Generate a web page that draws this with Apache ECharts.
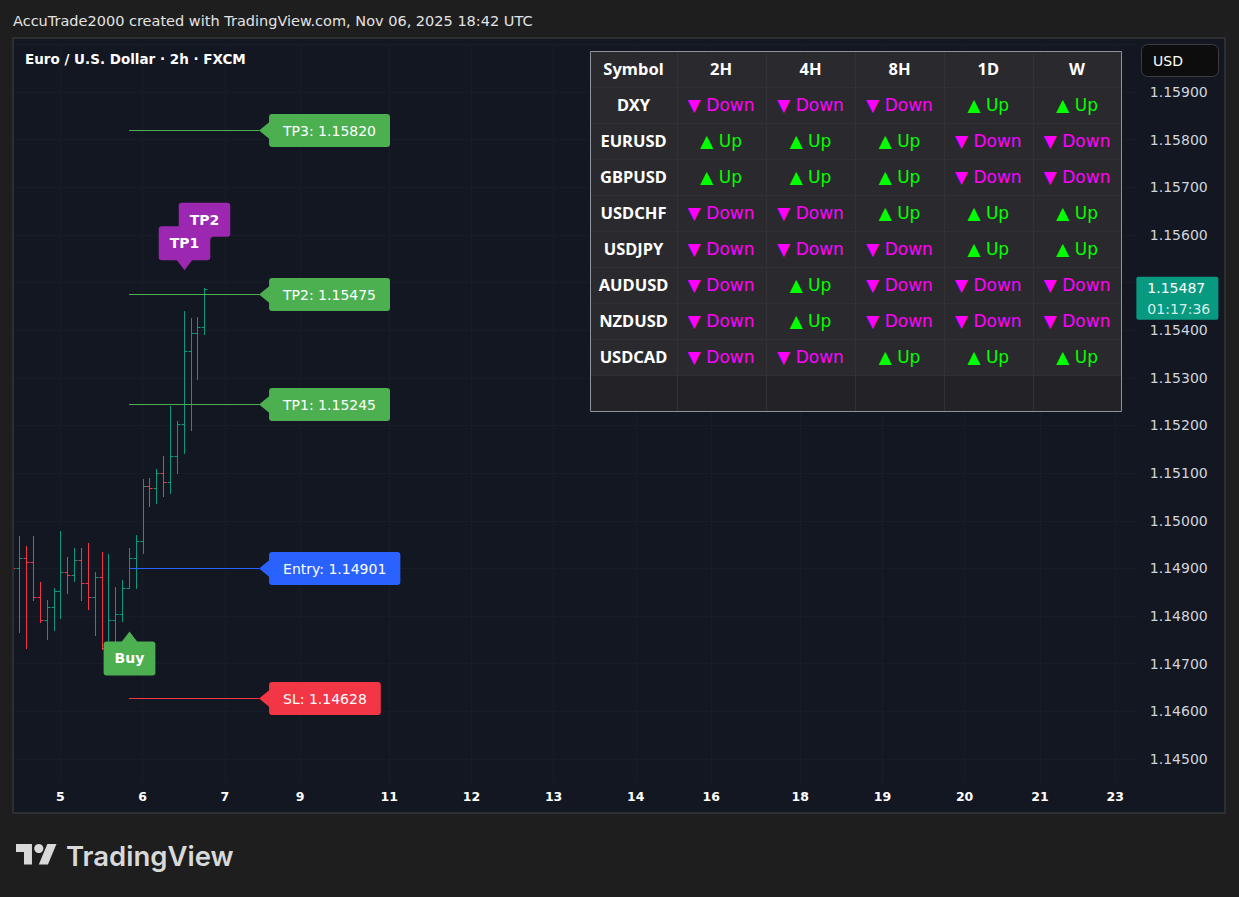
<!DOCTYPE html>
<html>
<head>
<meta charset="utf-8">
<script src="https://cdn.jsdelivr.net/npm/echarts@6/dist/echarts.min.js"></script>
<style>
html,body{margin:0;padding:0;background:#1e1e1e;}
#c{width:1239px;height:897px;}
</style>
</head>
<body>
<div id="c"></div>
<script>
// ---------- DATA ----------
// 2h OHLC bars (bar index 0 = Nov 4 10:00 UTC)
const opens  = [1.14915,1.14900,1.14921,1.14914,1.14839,1.14791,1.14820,1.14852,1.14892,1.14886,1.14917,1.14869,1.14841,1.14881,1.14732,1.14792,1.14804,1.14858,1.14922,1.14957,1.15074,1.15068,1.15100,1.15081,1.15135,1.15203,1.15356,1.15394,1.15406];
const highs  = [1.14935,1.14968,1.14947,1.14968,1.14872,1.14834,1.14859,1.14979,1.14924,1.14943,1.14943,1.14953,1.14892,1.14934,1.14930,1.14860,1.14875,1.14943,1.14970,1.15087,1.15089,1.15108,1.15136,1.15241,1.15209,1.15440,1.15426,1.15428,1.15489];
const lows   = [1.14880,1.14767,1.14732,1.14834,1.14788,1.14752,1.14771,1.14796,1.14849,1.14874,1.14834,1.14815,1.14761,1.14730,1.14687,1.14701,1.14789,1.14858,1.14858,1.14932,1.15032,1.15038,1.15053,1.15059,1.15101,1.15143,1.15191,1.15298,1.15393];
const closes = [1.14900,1.14921,1.14914,1.14839,1.14791,1.14820,1.14852,1.14892,1.14886,1.14917,1.14869,1.14841,1.14881,1.14732,1.14792,1.14804,1.14858,1.14922,1.14957,1.15074,1.15068,1.15100,1.15081,1.15135,1.15203,1.15356,1.15394,1.15406,1.15487];

// time axis (bar slots incl. future space) and day labels
const xSlotCount = 165;
const xTickIndex  = [7, 19, 31, 42, 55, 67, 79, 91, 102, 115, 127, 139, 150, 161];
const xTickLabels = ['5','6','7','9','11','12','13','14','16','18','19','20','21','23'];

// trade levels
const levelNames  = ['TP3','TP2','TP1','Entry','SL'];
const levelPrices = [1.15820, 1.15475, 1.15245, 1.14901, 1.14628];
const levelStartIndex = 17;
const levelEndIndex = 36;

// signal labels
const signalNames = ['Buy','TP2','TP1'];
const signalIndex = [17, 28, 25];
const signalSide  = ['below','above','above'];

// countdown on last price
const lastPriceCountdown = '01:17:36';

// trend table
const tableTimeframes = ['2H','4H','8H','1D','W'];
const tableSymbols = ['DXY','EURUSD','GBPUSD','USDCHF','USDJPY','AUDUSD','NZDUSD','USDCAD'];
const tableTrends = [
  ['Down','Down','Down','Up','Up'],
  ['Up','Up','Up','Down','Down'],
  ['Up','Up','Up','Down','Down'],
  ['Down','Down','Up','Up','Up'],
  ['Down','Down','Down','Up','Up'],
  ['Down','Up','Down','Down','Down'],
  ['Down','Up','Down','Down','Down'],
  ['Down','Down','Up','Up','Up']
];

// ---------- STYLE ----------
const FONT = '"DejaVu Sans", sans-serif';
const FONT2 = '"Noto Sans", "DejaVu Sans", sans-serif';
const UP = '#089981', DN = '#f23645';
const levelColor = n => n === 'Entry' ? '#2962ff' : (n === 'SL' ? '#f23645' : '#4caf50');
const signalColor = n => n === 'Buy' ? '#4caf50' : '#9c27b0';

const xCategories = Array.from({length: xSlotCount}, (_, i) => String(i));
const ohlcData = opens.map((o, i) => [i, o, closes[i], lows[i], highs[i]]);
const levelData = levelPrices.map((p, k) => [levelStartIndex, p, levelEndIndex, k]);
const signalData = signalNames.map((n, k) => {
  const i = signalIndex[k];
  return [i, signalSide[k] === 'above' ? highs[i] : lows[i], k];
});
const lastIdx = closes.length - 1;

const isWhole = v => Math.abs(v * 1000 - Math.round(v * 1000)) < 1e-6;

// ---------- GRAPHICS ----------
const graphics = [];
graphics.push({type:'rect', z:-10, silent:true, shape:{x:13, y:38, width:1212, height:775}, style:{fill:'#131722'}});
graphics.push({type:'rect', z:100, silent:true, shape:{x:13, y:38, width:1212, height:775}, style:{fill:'none', stroke:'#2e2f33', lineWidth:2}});
graphics.push({type:'text', z:10, style:{text:'AccuTrade2000 created with TradingView.com, Nov 06, 2025 18:42 UTC', x:13, y:20.5, verticalAlign:'middle', fill:'#e3e3e3', font:'14.5px ' + FONT}});
graphics.push({type:'text', z:10, style:{text:'Euro / U.S. Dollar · 2h · FXCM', x:25, y:59, verticalAlign:'middle', fill:'#ffffff', font:'bold 13.5px ' + FONT}});
// USD box
graphics.push({type:'rect', z:10, shape:{x:1141.5, y:44.5, width:77, height:32, r:6}, style:{fill:'#0d0d0d', stroke:'#3c3c3c', lineWidth:1}});
graphics.push({type:'text', z:11, style:{text:'USD', x:1153, y:61, verticalAlign:'middle', fill:'#ffffff', font:'14px ' + FONT}});

// table
const colX = [590.5, 676.5, 765.8, 855.2, 943.9, 1032.7, 1121.5];
const tblTop = 51.5, rowH = 36, rowCount = tableSymbols.length + 2;
const tblBottom = tblTop + rowH * rowCount;
graphics.push({type:'rect', z:20, shape:{x:colX[0], y:tblTop, width:colX[6]-colX[0], height:rowH*rowCount}, style:{fill:'#2a2a2e'}});
graphics.push({type:'rect', z:20, shape:{x:colX[0], y:tblTop + rowH*(rowCount-1), width:colX[6]-colX[0], height:rowH}, style:{fill:'#232327'}});
for (let c = 1; c < 6; c++) {
  graphics.push({type:'line', z:21, shape:{x1:Math.round(colX[c])+0.5, y1:tblTop, x2:Math.round(colX[c])+0.5, y2:tblBottom}, style:{stroke:'#313136', lineWidth:1}});
}
for (let r = 1; r < rowCount; r++) {
  graphics.push({type:'line', z:21, shape:{x1:colX[0], y1:tblTop + rowH*r, x2:colX[6], y2:tblTop + rowH*r}, style:{stroke:'#2f2f34', lineWidth:1}});
}
graphics.push({type:'rect', z:22, shape:{x:colX[0], y:tblTop, width:colX[6]-colX[0], height:rowH*rowCount}, style:{fill:'none', stroke:'#8f929a', lineWidth:1}});
const cellText = (txt, c, r, fill, font) => ({type:'text', z:23, style:{text:txt, x:(colX[c]+colX[c+1])/2, y:tblTop + rowH*r + 17, align:'center', verticalAlign:'middle', fill:fill, font:font}});
graphics.push(cellText('Symbol', 0, 0, '#ffffff', 'bold 16.5px ' + FONT2));
tableTimeframes.forEach((tf, c) => graphics.push(cellText(tf, c+1, 0, '#ffffff', 'bold 16.5px ' + FONT2)));
tableSymbols.forEach((s, r) => {
  graphics.push(cellText(s, 0, r+1, '#ffffff', 'bold 16.5px ' + FONT2));
  tableTrends[r].forEach((t, c) => {
    graphics.push(cellText(t === 'Up' ? '▲ Up' : '▼ Down', c+1, r+1, t === 'Up' ? '#00ff00' : '#ff00ff', '17px ' + FONT));
  });
});

// TradingView logo
graphics.push({type:'group', z:10, x:16, y:839.4, scaleX:1.14, scaleY:1.14, children:[
  {type:'polygon', shape:{points:[[14,22],[7,22],[7,11],[0,11],[0,4],[14,4]]}, style:{fill:'#d9d9d9'}},
  {type:'polygon', shape:{points:[[28,22],[20,22],[27.5,4],[35.5,4]]}, style:{fill:'#d9d9d9'}},
  {type:'circle', shape:{cx:20, cy:8, r:4}, style:{fill:'#d9d9d9'}}
]});
graphics.push({type:'text', z:10, style:{text:'TradingView', x:66, y:856, verticalAlign:'middle', fill:'#d9d9d9', font:'600 27.5px Inter, "Open Sans", sans-serif'}});

// ---------- CHART ----------
const chart = echarts.init(document.getElementById('c'), null, {renderer:'svg', width:1239, height:897});
const tickFn = idx => xTickIndex.indexOf(idx) >= 0;

chart.setOption({
  backgroundColor:'#1e1e1e',
  animation:false,
  graphic: graphics,
  grid:{left:12.45, top:44.36, right:103.15, bottom:114.2, containLabel:false, outerBoundsMode:'none'},
  xAxis:{
    type:'category', data:xCategories, boundaryGap:false,
    axisLine:{show:false}, axisTick:{show:false},
    axisLabel:{interval:tickFn, formatter:(v, idx) => { const j = xTickIndex.indexOf(idx); return j >= 0 ? xTickLabels[j] : ''; },
      color:'#ffffff', fontFamily:FONT, fontWeight:'bold', fontSize:12.5, margin:7},
    splitLine:{show:true, interval:tickFn, lineStyle:{color:'#181c27', width:1}}
  },
  yAxis:{
    type:'value', position:'right', min:1.1445, max:1.16, interval:0.0005,
    axisLine:{show:false}, axisTick:{show:false},
    axisLabel:{formatter:v => isWhole(v) ? v.toFixed(5) : '', showMaxLabel:false, showMinLabel:false,
      color:'#d1d4dc', fontFamily:FONT, fontSize:14, margin:14},
    splitLine:{show:true, lineStyle:{color:['rgba(0,0,0,0)','#181c27'], width:1}}
  },
  series:[
    {
      type:'custom', name:'EURUSD 2h', data:ohlcData, encode:{x:0, y:[1,2,3,4]}, clip:true, z:3,
      renderItem:(params, api) => {
        const i = api.value(0), o = api.value(1), c = api.value(2), l = api.value(3), h = api.value(4);
        const pO = api.coord([i, o]), pC = api.coord([i, c]), pH = api.coord([i, h]), pL = api.coord([i, l]);
        const x = Math.round(pO[0]) + 0.5;
        const color = c >= o ? UP : DN;
        const yO = Math.round(pO[1]) + 0.5, yC = Math.round(pC[1]) + 0.5;
        return {type:'group', children:[
          {type:'line', shape:{x1:x, y1:Math.round(pH[1]), x2:x, y2:Math.round(pL[1]) + 1}, style:{stroke:color, lineWidth:1}},
          {type:'line', shape:{x1:x - 3, y1:yO, x2:x, y2:yO}, style:{stroke:color, lineWidth:1}},
          {type:'line', shape:{x1:x, y1:yC, x2:x + 3, y2:yC}, style:{stroke:color, lineWidth:1}}
        ]};
      }
    },
    {
      type:'custom', name:'levels', data:levelData, encode:{x:[0,2], y:1}, clip:false, z:4,
      renderItem:(params, api) => {
        const k = api.value(3);
        const p0 = api.coord([api.value(0), api.value(1)]);
        const p1 = api.coord([api.value(2), api.value(1)]);
        const y = Math.round(p0[1]) + 0.5;
        const name = levelNames[k];
        const color = levelColor(name);
        const tip = p1[0];
        return {type:'group', children:[
          {type:'line', shape:{x1:Math.round(p0[0]), y1:y, x2:tip, y2:y}, style:{stroke:color, lineWidth:1}},
          {type:'polygon', shape:{points:[[tip, y],[tip + 11, y - 9],[tip + 11, y + 9]]}, style:{fill:color}},
          {type:'text', style:{text:name + ': ' + levelPrices[k].toFixed(5), x:tip + 10, y:y, align:'left', verticalAlign:'middle',
            fill:'#ffffff', font:'14px ' + FONT, backgroundColor:color, padding:[8,14], borderRadius:3, lineHeight:17}}
        ]};
      }
    },
    {
      type:'custom', name:'signals', data:signalData, encode:{x:0, y:1}, clip:false, z:5,
      renderItem:(params, api) => {
        const k = api.value(2);
        const pt = api.coord([api.value(0), api.value(1)]);
        const x = Math.round(pt[0]) + 0.5;
        const name = signalNames[k];
        const color = signalColor(name);
        let tipY, tri, ty;
        if (signalSide[k] === 'above') {
          tipY = pt[1] - 41;
          tri = [[x, tipY],[x - 8, tipY - 10.5],[x + 8, tipY - 10.5]];
          ty = tipY - 10 - 17;
        } else {
          tipY = pt[1] + 43;
          tri = [[x, tipY],[x - 8, tipY + 10.5],[x + 8, tipY + 10.5]];
          ty = tipY + 10 + 17;
        }
        return {type:'group', children:[
          {type:'polygon', shape:{points:tri}, style:{fill:color}},
          {type:'text', style:{text:name, x:x, y:ty, align:'center', verticalAlign:'middle', fill:'#ffffff',
            font:'bold 14px ' + FONT, backgroundColor:color, padding:[8,11], borderRadius:3, lineHeight:18}}
        ]};
      }
    },
    {
      type:'custom', name:'last price', data:[[lastIdx, closes[lastIdx]]], encode:{x:0, y:1}, clip:false, z:6,
      renderItem:(params, api) => {
        const pt = api.coord([api.value(0), api.value(1)]);
        const x0 = params.coordSys.x + params.coordSys.width + 0.5;
        const y = pt[1];
        return {type:'group', children:[
          {type:'rect', shape:{x:x0, y:y - 12, width:82, height:43, r:2}, style:{fill:'#089981'}},
          {type:'text', style:{text:api.value(1).toFixed(5), x:x0 + 11, y:y - 0.5, verticalAlign:'middle', fill:'#ffffff', font:'14px ' + FONT}},
          {type:'text', style:{text:lastPriceCountdown, x:x0 + 11, y:y + 20.5, verticalAlign:'middle', fill:'#d4efe8', font:'14px ' + FONT}}
        ]};
      }
    }
  ]
});
</script>
</body>
</html>
